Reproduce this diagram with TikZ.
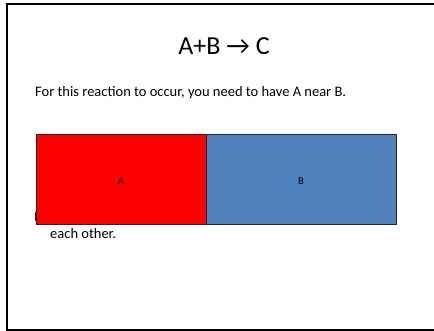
\documentclass[tikz,border=0pt]{standalone}
\usepackage{fontspec}
\setmainfont{Carlito}
\begin{document}
\begin{tikzpicture}[x=1pt,y=-1pt,
  frameline/.style={line width=2pt,black},
  box/.style={draw=black!85,line width=0.8pt},
  bodytext/.style={anchor=base west,inner sep=0pt,font=\fontsize{14.5}{17}\selectfont},
  lbl/.style={font=\fontsize{10.5}{12}\selectfont,inner sep=0pt}]
\useasboundingbox (0,0) rectangle (434,331);
\fill[white] (0,0) rectangle (434,331);
\coordinate (tr) at (440,4);
\coordinate (tl) at (7,4);
\coordinate (bl) at (7,330);
\coordinate (br) at (440,330);
\draw[frameline] (tr) -- (tl) -- (bl) -- (br);
\node[anchor=base,inner sep=0pt,font=\fontsize{26}{30}\selectfont] (title) at (224,55) {A+B → C};
\node[bodytext] (txt) at (35,97) {For this reaction to occur, you need to have A near B.};
\node[bodytext] (hid) at (34,222) {I};
\node[bodytext] (txt2) at (50,239) {each other.};
\path[box,fill=red] (36,134) rectangle (206,224);
\path[box,fill={rgb,255:red,79;green,129;blue,189}] (206,134) rectangle (396,224);
\node[lbl] (A) at (121,181) {A};
\node[lbl] (B) at (301,181) {B};
\end{tikzpicture}
\end{document}
